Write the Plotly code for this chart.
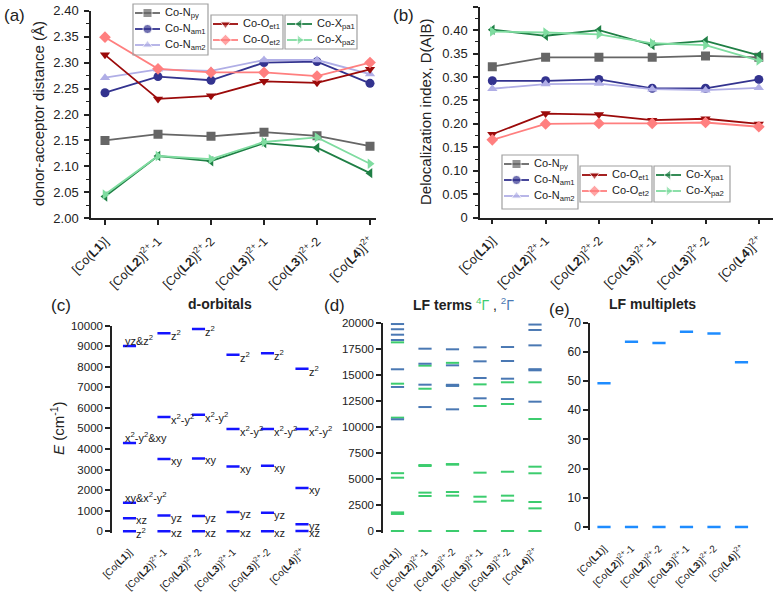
import plotly.graph_objects as go

# ---------------- data ----------------
categories = ["[Co(<b>L1</b>)]", "[Co(<b>L2</b>)]<sup>2+</sup>-1", "[Co(<b>L2</b>)]<sup>2+</sup>-2",
              "[Co(<b>L3</b>)]<sup>2+</sup>-1", "[Co(<b>L3</b>)]<sup>2+</sup>-2", "[Co(<b>L4</b>)]<sup>2+</sup>"]
cat_pos = [0, 1, 2, 3, 4, 5]

bond_names = ["Co-N<sub>py</sub>", "Co-N<sub>am1</sub>", "Co-N<sub>am2</sub>",
              "Co-O<sub>et1</sub>", "Co-O<sub>et2</sub>", "Co-X<sub>pa1</sub>", "Co-X<sub>pa2</sub>"]

dist_Npy  = [2.150, 2.162, 2.158, 2.166, 2.159, 2.139]
dist_Nam1 = [2.242, 2.273, 2.266, 2.300, 2.302, 2.260]
dist_Nam2 = [2.271, 2.287, 2.284, 2.305, 2.305, 2.278]
dist_Oet1 = [2.315, 2.230, 2.236, 2.264, 2.261, 2.287]
dist_Oet2 = [2.349, 2.288, 2.281, 2.281, 2.274, 2.300]
dist_Xpa1 = [2.042, 2.120, 2.110, 2.145, 2.136, 2.087]
dist_Xpa2 = [2.046, 2.120, 2.114, 2.147, 2.156, 2.105]

deloc_Npy  = [0.322, 0.342, 0.342, 0.342, 0.345, 0.342]
deloc_Nam1 = [0.292, 0.292, 0.295, 0.276, 0.276, 0.295]
deloc_Nam2 = [0.275, 0.285, 0.286, 0.274, 0.272, 0.277]
deloc_Oet1 = [0.178, 0.222, 0.220, 0.208, 0.211, 0.200]
deloc_Oet2 = [0.166, 0.200, 0.201, 0.201, 0.203, 0.194]
deloc_Xpa1 = [0.401, 0.388, 0.400, 0.368, 0.377, 0.346]
deloc_Xpa2 = [0.397, 0.395, 0.391, 0.372, 0.368, 0.335]

# d-orbital energies (cm-1) per complex and their labels
orb_L1   = [0, 640, 1390, 4290, 9000]
orb_L2_1 = [0, 765, 3510, 5560, 9620]
orb_L2_2 = [0, 745, 3540, 5660, 9830]
orb_L3_1 = [0, 940, 3150, 4975, 8575]
orb_L3_2 = [0, 907, 3185, 4975, 8650]
orb_L4   = [15, 340, 2100, 4975, 7900]
orb_lab_L1 = ["z<sup>2</sup>", "xz", "xy&amp;x<sup>2</sup>-y<sup>2</sup>", "x<sup>2</sup>-y<sup>2</sup>&amp;xy", "yz&amp;z<sup>2</sup>"]
orb_lab_std = ["xz", "yz", "xy", "x<sup>2</sup>-y<sup>2</sup>", "z<sup>2</sup>"]

# LF terms (cm-1): quartets (4Γ) and doublets (2Γ)
quart_L1   = [0, 1640, 1790, 5125, 5560, 10900, 14165, 18140]
quart_L2_1 = [0, 3365, 3690, 6250, 6345, 13680, 15900]
quart_L2_2 = [0, 3400, 3750, 6380, 6440, 14000, 16170]
quart_L3_1 = [0, 2820, 3300, 5610, 12020, 14100]
quart_L3_2 = [0, 2915, 3400, 5700, 12210, 14300]
quart_L4   = [0, 2180, 2790, 5550, 6185, 10770, 14300]
doub_L1   = [10740, 13850, 15550, 18365, 18875, 19400, 19900]
doub_L2_1 = [11920, 14070, 16085, 17530]
doub_L2_2 = [11700, 13950, 14060, 15930, 17470]
doub_L3_1 = [12760, 14710, 16315, 17660]
doub_L3_2 = [12690, 14645, 16345, 17690]
doub_L4   = [12435, 15450, 15560, 17850, 19330, 19850]

# LF multiplets (cm-1)
mult_ground  = [0, 0, 0, 0, 0, 0]
mult_excited = [49.2, 63.4, 63.0, 66.8, 66.2, 56.4]

# ---------------- styles ----------------
W, H = 775, 593
FONT = "Liberation Sans, Arial, sans-serif"
TXT = "#222222"
series_colors = ["#666666", "#33338f", "#b0aee6", "#9b0a0a", "#ff7f7f", "#1f7f45", "#7fdca0"]
series_symbols = ["square", "circle", "triangle-up", "triangle-down", "diamond", "triangle-left", "triangle-right"]

# legend boxes (pixel layout): (x0, y0, x1, y1), series indices
legend_boxes = [
    ((133, 4, 208, 55), [0, 1, 2]),
    ((211, 15, 283, 49), [3, 4]),
    ((285, 15, 357, 49), [5, 6]),
    ((502, 155, 578, 209), [0, 1, 2]),
    ((580, 166, 652, 202), [3, 4]),
    ((654, 166, 730, 202), [5, 6]),
]

fig = go.Figure()

dist_series = [dist_Npy, dist_Nam1, dist_Nam2, dist_Oet1, dist_Oet2, dist_Xpa1, dist_Xpa2]
deloc_series = [deloc_Npy, deloc_Nam1, deloc_Nam2, deloc_Oet1, deloc_Oet2, deloc_Xpa1, deloc_Xpa2]

for k, ys in enumerate(dist_series):
    fig.add_trace(go.Scatter(x=cat_pos, y=ys, name=bond_names[k], mode="lines+markers",
                             line=dict(color=series_colors[k], width=1.8),
                             marker=dict(symbol=series_symbols[k], size=9, color=series_colors[k]),
                             xaxis="x", yaxis="y", showlegend=False))
for k, ys in enumerate(deloc_series):
    fig.add_trace(go.Scatter(x=cat_pos, y=ys, name=bond_names[k], mode="lines+markers",
                             line=dict(color=series_colors[k], width=1.8),
                             marker=dict(symbol=series_symbols[k], size=9, color=series_colors[k]),
                             xaxis="x2", yaxis="y2", showlegend=False))


def segments(cols, halfw):
    xs, ys = [], []
    for i, vals in enumerate(cols):
        for v in vals:
            xs += [cat_pos[i] - halfw, cat_pos[i] + halfw, None]
            ys += [v, v, None]
    return xs, ys


# (c) d-orbitals
orb_cols = [orb_L1, orb_L2_1, orb_L2_2, orb_L3_1, orb_L3_2, orb_L4]
HW_C = 0.19
xs, ys = segments(orb_cols, HW_C)
fig.add_trace(go.Scatter(x=xs, y=ys, mode="lines", line=dict(color="#1414ff", width=2.5),
                         xaxis="x3", yaxis="y3", showlegend=False, hoverinfo="skip"))

# (d) LF terms
HW_D = 0.24
xs, ys = segments([quart_L1, quart_L2_1, quart_L2_2, quart_L3_1, quart_L3_2, quart_L4], HW_D)
fig.add_trace(go.Scatter(x=xs, y=ys, mode="lines", line=dict(color="#3ccc6e", width=2),
                         xaxis="x4", yaxis="y4", showlegend=False, hoverinfo="skip"))
xs, ys = segments([doub_L1, doub_L2_1, doub_L2_2, doub_L3_1, doub_L3_2, doub_L4], HW_D)
fig.add_trace(go.Scatter(x=xs, y=ys, mode="lines", line=dict(color="#4a78b3", width=2),
                         xaxis="x4", yaxis="y4", showlegend=False, hoverinfo="skip"))

# (e) LF multiplets
HW_E = 0.24
xs, ys = segments([[g, e] for g, e in zip(mult_ground, mult_excited)], HW_E)
fig.add_trace(go.Scatter(x=xs, y=ys, mode="lines", line=dict(color="#1e8cff", width=2.5),
                         xaxis="x5", yaxis="y5", showlegend=False, hoverinfo="skip"))

annotations = []
shapes = []


def px_x(p):
    return p / W


def px_y(p):
    return 1 - p / H


# hand-made legends on a full-figure pixel overlay axis (x6/y6)
for (x0, y0, x1, y1), idxs in legend_boxes:
    shapes.append(dict(type="rect", xref="paper", yref="paper", x0=px_x(x0), x1=px_x(x1),
                       y0=px_y(y0), y1=px_y(y1), line=dict(color="#a0a0a0", width=1.2),
                       fillcolor="rgba(0,0,0,0)", layer="above"))
    for k, si in enumerate(idxs):
        yy = y0 + 9 + 16 * k
        fig.add_trace(go.Scatter(x=[x0 + 2, x0 + 14.5, x0 + 27], y=[yy, yy, yy], mode="lines+markers",
                                 line=dict(color=series_colors[si], width=1.8),
                                 marker=dict(symbol=series_symbols[si], size=[0, 9, 0], color=series_colors[si]),
                                 xaxis="x6", yaxis="y6", showlegend=False, hoverinfo="skip"))
        annotations.append(dict(x=px_x(x0 + 30), y=px_y(yy), xref="paper", yref="paper",
                                text=bond_names[si], showarrow=False, xanchor="left", yanchor="middle",
                                font=dict(size=11, color=TXT, family=FONT)))

# orbital labels
for i, vals in enumerate(orb_cols):
    labs = orb_lab_L1 if i == 0 else orb_lab_std
    for j, v in enumerate(vals):
        if i == 0 and j >= 2:
            annotations.append(dict(x=cat_pos[i] - HW_C, y=v, xref="x3", yref="y3", text=labs[j],
                                    showarrow=False, xanchor="left", yanchor="bottom", yshift=-3,
                                    font=dict(size=11, color=TXT, family=FONT)))
        else:
            annotations.append(dict(x=cat_pos[i] + HW_C, y=v, xref="x3", yref="y3", text=labs[j],
                                    showarrow=False, xanchor="left", yanchor="middle", yshift=-2, xshift=-2,
                                    font=dict(size=11, color=TXT, family=FONT)))


def txt(x, y, s, size, xa="center", ya="middle", angle=0):
    annotations.append(dict(x=px_x(x), y=px_y(y), xref="paper", yref="paper", text=s, showarrow=False,
                            xanchor=xa, yanchor=ya, textangle=angle,
                            font=dict(size=size, color=TXT, family=FONT)))


txt(2, 15, "(a)", 17, xa="left")
txt(391, 15, "(b)", 17, xa="left")
txt(49, 305, "(c)", 17, xa="left")
txt(322, 305, "(d)", 17, xa="left")
txt(547, 309, "(e)", 17, xa="left")
txt(220, 304, "<b>d-orbitals</b>", 14)
txt(463, 304, "<b>LF terms</b> <span style='color:#3ccc6e'><sup>4</sup>Γ</span> , "
              "<span style='color:#4a78b3'><sup>2</sup>Γ</span>", 14)
txt(652, 304, "<b>LF multiplets</b>", 14)
txt(39, 114, "donor-acceptor distance (Å)", 15, angle=-90)
txt(425, 112, "Delocalization index, D(A|B)", 15, angle=-90)
txt(57, 428, "<i>E</i> (cm<sup>-1</sup>)", 15, angle=-90)

axis_common = dict(showline=True, linecolor=TXT, linewidth=1.5, ticks="outside", tickcolor=TXT,
                   tickwidth=1.5, ticklen=5, showgrid=False, zeroline=False, automargin=False,
                   tickfont=dict(family=FONT, color=TXT))
xcat_top = dict(axis_common, tickvals=cat_pos, ticktext=categories, tickangle=-45, ticklabelstandoff=4,
                tickfont=dict(family=FONT, color=TXT, size=12.5))
xcat_bot = dict(showline=False, ticks="", showgrid=False, zeroline=False, automargin=False,
                tickvals=cat_pos, ticktext=categories, tickangle=-45, ticklabelstandoff=10,
                tickfont=dict(family=FONT, color=TXT, size=10))

fig.update_layout(
    template="none",
    width=W, height=H, margin=dict(l=0, r=0, t=0, b=0, pad=0, autoexpand=False),
    paper_bgcolor="white", plot_bgcolor="rgba(0,0,0,0)",
    font=dict(family=FONT, color=TXT),
    xaxis=dict(xcat_top, domain=[px_x(91), px_x(376)], range=[-0.264, 5.113], anchor="y"),
    yaxis=dict(axis_common, domain=[px_y(218.3), px_y(10.7)], range=[2.0, 2.4], anchor="x",
               tickvals=[2.00, 2.05, 2.10, 2.15, 2.20, 2.25, 2.30, 2.35, 2.40], tickformat=".2f",
               tickfont=dict(family=FONT, color=TXT, size=13), ticklabelstandoff=3,
               minor=dict(ticks="outside", ticklen=3, dtick=0.025, tickcolor=TXT, tickwidth=1.2)),
    xaxis2=dict(xcat_top, domain=[px_x(480), px_x(773)], range=[-0.231, 5.266], anchor="y2"),
    yaxis2=dict(axis_common, domain=[px_y(217.7), px_y(6.7)], range=[0, 0.45], anchor="x2",
                tickvals=[0, 0.05, 0.10, 0.15, 0.20, 0.25, 0.30, 0.35, 0.40, 0.45],
                ticktext=["0", "0.05", "0.10", "0.15", "0.20", "0.25", "0.30", "0.35", "0.40", "0.45"],
                tickfont=dict(family=FONT, color=TXT, size=13), ticklabelstandoff=3,
                minor=dict(ticks="outside", ticklen=3, dtick=0.025, tickcolor=TXT, tickwidth=1.2)),
    xaxis3=dict(xcat_bot, domain=[px_x(112), px_x(320)], range=[-0.507, 5.522], anchor="y3"),
    yaxis3=dict(axis_common, domain=[px_y(533.4), px_y(325.5)], range=[-100, 10000], anchor="x3",
                tickvals=[0, 1000, 2000, 3000, 4000, 5000, 6000, 7000, 8000, 9000, 10000], tickformat="d",
                tickfont=dict(family=FONT, color=TXT, size=11.5)),
    xaxis4=dict(xcat_bot, domain=[px_x(383), px_x(550)], range=[-0.527, 5.545], anchor="y4"),
    yaxis4=dict(axis_common, domain=[px_y(533.1), px_y(323)], range=[-200, 20000], anchor="x4",
                tickvals=[0, 2500, 5000, 7500, 10000, 12500, 15000, 17500, 20000], tickformat="d",
                tickfont=dict(family=FONT, color=TXT, size=11.5)),
    xaxis5=dict(xcat_bot, domain=[px_x(590), px_x(765)], range=[-0.509, 5.855], anchor="y5"),
    yaxis5=dict(axis_common, domain=[px_y(529.9), px_y(322.5)], range=[-1, 70], anchor="x5",
                tickvals=[0, 10, 20, 30, 40, 50, 60, 70],
                tickfont=dict(family=FONT, color=TXT, size=12)),
    xaxis6=dict(domain=[0, 1], range=[0, W], visible=False, anchor="y6", automargin=False, fixedrange=True),
    yaxis6=dict(domain=[0, 1], range=[H, 0], visible=False, anchor="x6", automargin=False, fixedrange=True),
    annotations=annotations,
    shapes=shapes,
    showlegend=False,
)

fig.write_html("out.html")
